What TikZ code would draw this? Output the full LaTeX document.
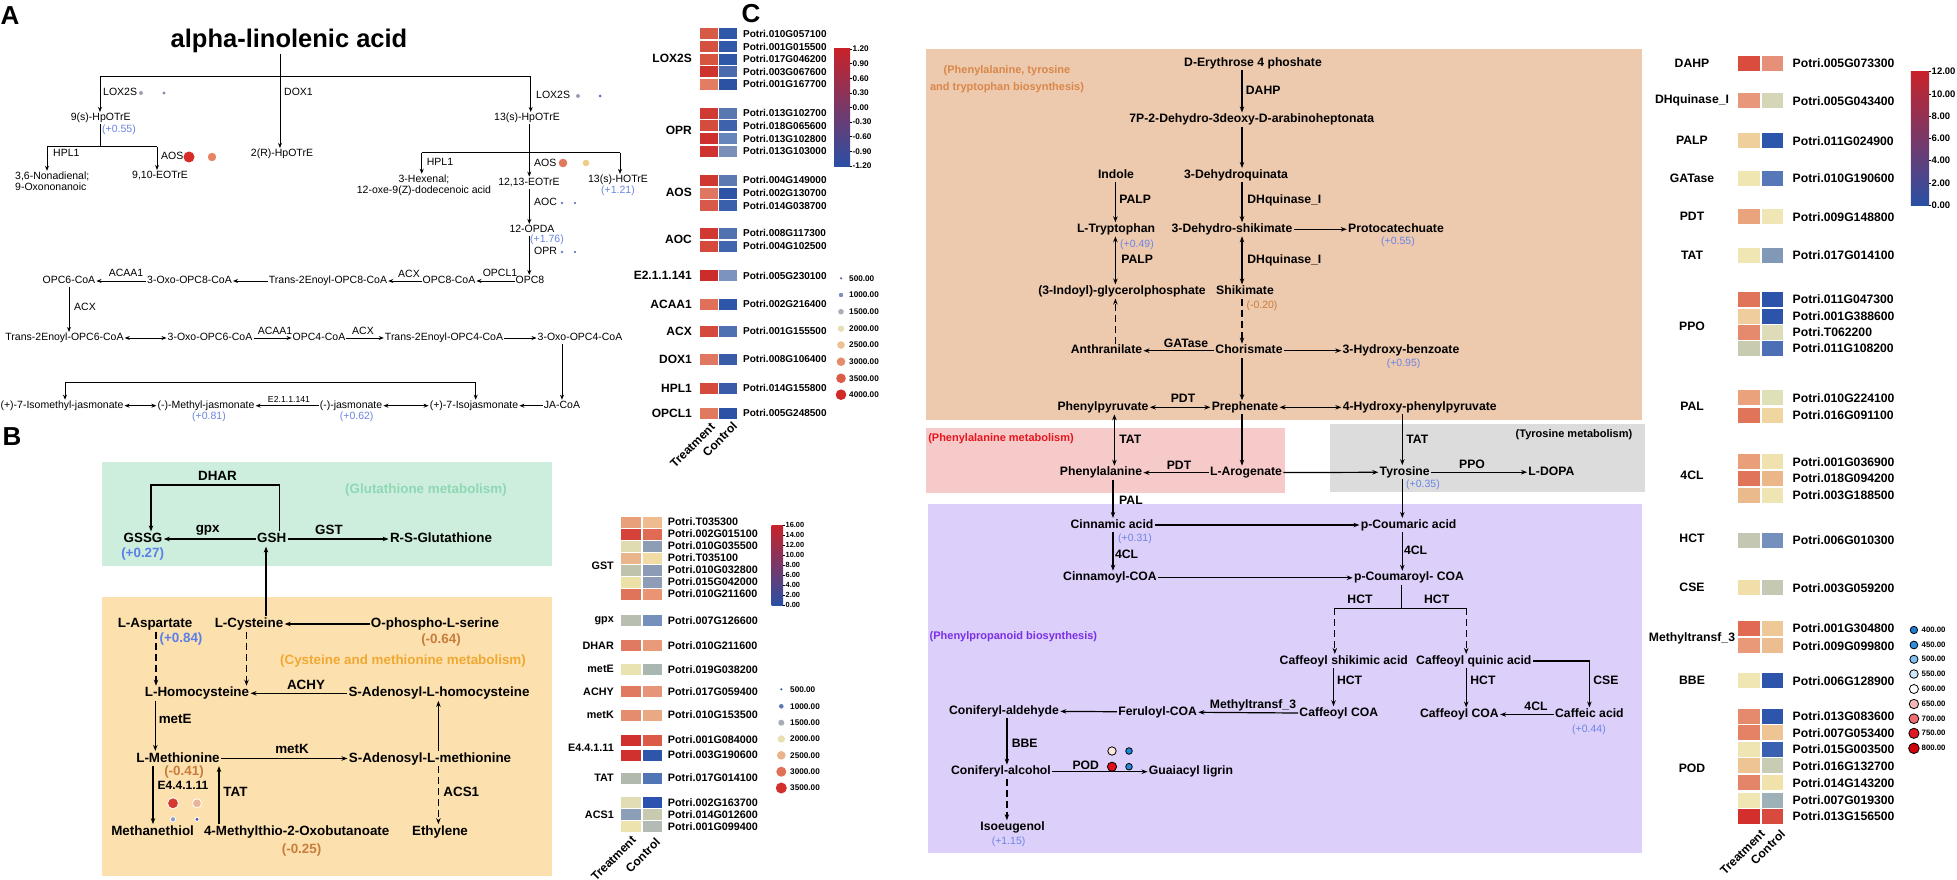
\documentclass[tikz,border=0pt]{standalone}
\usepackage{fontspec}
\setmainfont{Liberation Sans}
\usetikzlibrary{arrows.meta}
\usetikzlibrary{calc}

% colours
\definecolor{valA}{HTML}{6A86E0}
\definecolor{valB}{HTML}{5B7EE8}
\definecolor{valO}{HTML}{C87D3C}
\definecolor{valC}{HTML}{6B85E8}
\definecolor{boxgreen}{HTML}{CDEEDD}
\definecolor{txtgreen}{HTML}{8ED8B4}
\definecolor{boxorange}{HTML}{FCE0AD}
\definecolor{txtgold}{HTML}{F0A832}
\definecolor{boxpeach}{HTML}{EDC9AD}
\definecolor{txtpeach}{HTML}{D9874A}
\definecolor{boxpink}{HTML}{F7CACA}
\definecolor{txtred}{HTML}{E8141C}
\definecolor{boxgrey}{HTML}{DCDCDC}
\definecolor{boxlav}{HTML}{DCCFF9}
\definecolor{txtpurple}{HTML}{7A2EE8}
\definecolor{cbred}{HTML}{C8222A}
\definecolor{cbmid}{HTML}{F0EDB2}
\definecolor{cbblue}{HTML}{2A4FA5}

\newcommand{\hmset}[2]{\edef\hmtmp{\noexpand\definecolor{hmT}{HTML}{#1}\noexpand\definecolor{hmC}{HTML}{#2}}\hmtmp}
\newcommand{\dotset}[1]{\edef\hmtmp{\noexpand\definecolor{dcol}{HTML}{#1}}\hmtmp}

\tikzset{
  plab/.style={font=\bfseries\fontsize{26}{30}\selectfont, inner sep=0pt},
  atx/.style={font=\fontsize{10.5}{12}\selectfont, inner sep=1pt, text height=7.6pt, text depth=2.1pt},
  atm/.style={font=\fontsize{10.5}{11.3}\selectfont, inner sep=1pt, align=#1},
  btx/.style={font=\bfseries\fontsize{13.4}{15}\selectfont, inner sep=1.2pt, text height=9.7pt, text depth=2.7pt},
  ctx/.style={font=\bfseries\fontsize{12.2}{14}\selectfont, inner sep=1.2pt, text height=8.8pt, text depth=2.5pt},
  cval/.style={font=\fontsize{10.5}{12}\selectfont, inner sep=1pt, text=valC},
  ttl/.style={font=\bfseries\fontsize{11}{16.7}\selectfont, inner sep=1pt},
  hlA/.style={font=\bfseries\fontsize{10}{12}\selectfont, inner sep=0pt, anchor=west},
  hlB/.style={font=\bfseries\fontsize{10.8}{12}\selectfont, inner sep=0pt, anchor=west},
  hlC/.style={font=\bfseries\fontsize{12.2}{14}\selectfont, inner sep=0pt, anchor=west},
  enA/.style={font=\bfseries\fontsize{12}{14}\selectfont, inner sep=0pt, anchor=east},
  enB/.style={font=\bfseries\fontsize{10.8}{12}\selectfont, inner sep=0pt, anchor=east},
  enC/.style={font=\bfseries\fontsize{12.2}{14}\selectfont, inner sep=0pt},
  tcl/.style={font=\bfseries\fontsize{12}{14}\selectfont, inner sep=0pt, rotate=45, anchor=east},
  leg/.style={font=\bfseries\fontsize{8.2}{9}\selectfont, inner sep=0pt, anchor=west},
  aln/.style={line width=1pt},
  aarr/.style={aln, -{Stealth[length=5pt,width=4pt]}},
  adarr/.style={aln, {Stealth[length=5pt,width=4pt]}-{Stealth[length=5pt,width=4pt]}},
  bln/.style={line width=1.2pt},
  barr/.style={bln, -{Stealth[length=6pt,width=4.5pt]}},
  cln/.style={line width=1.2pt},
  carr/.style={cln, -{Stealth[length=6pt,width=4.5pt]}},
  cdarr/.style={cln, {Stealth[length=6pt,width=4.5pt]}-{Stealth[length=6pt,width=4.5pt]}},
  ldash/.style={dash pattern=on 7pt off 4pt},
}

\begin{document}
\begin{tikzpicture}[x=1pt,y=-1pt]
\useasboundingbox (0,0) rectangle (1957,880);
\fill[white] (0,0) rectangle (1957,880);

% ================= panel A
\node[plab] (labA) at (10,16) {A};
\node[font=\bfseries\fontsize{25.5}{28}\selectfont, inner sep=1pt] (ala) at (289,41) {alpha-linolenic acid};

\node[atx] (hp9) at (100.7,118) {9(s)-HpOTrE};
\node[atx, text=valA] (v055) at (119,129.5) {(+0.55)};
\node[atx] (r2hp) at (282,154) {2(R)-HpOTrE};
\node[atx] (hp13) at (527,118) {13(s)-HpOTrE};
\node[atm=left, anchor=west] (non) at (14,181.5) {3,6-Nonadienal;\\9-Oxononanoic};
\node[atx] (e910) at (160,176) {9,10-EOTrE};
\node[atm=center] (hex) at (424,185.5) {3-Hexenal;\\12-oxe-9(Z)-dodecenoic acid};
\node[atx] (e1213) at (529,182.7) {12,13-EOTrE};
\node[atx] (hot) at (618,180) {13(s)-HOTrE};
\node[atx, text=valA] (v121) at (618,190.5) {(+1.21)};
\node[atx] (opda) at (532,230) {12-OPDA};
\node[atx, text=valA] (v176) at (547,239.5) {(+1.76)};
\node[atx] (opc8) at (530,281) {OPC8};
\node[atx] (opc8c) at (449,281) {OPC8-CoA};
\node[atx] (t2e8) at (328,281) {Trans-2Enoyl-OPC8-CoA};
\node[atx] (oxo8) at (189.5,281) {3-Oxo-OPC8-CoA};
\node[atx] (opc6) at (69,281) {OPC6-CoA};
\node[atx] (t2e6) at (64.5,338) {Trans-2Enoyl-OPC6-CoA};
\node[atx] (oxo6) at (210,338) {3-Oxo-OPC6-CoA};
\node[atx] (opc4) at (319,338) {OPC4-CoA};
\node[atx] (t2e4) at (444,338) {Trans-2Enoyl-OPC4-CoA};
\node[atx] (oxo4) at (580,338) {3-Oxo-OPC4-CoA};
\node[atx] (jacoa) at (562,405.7) {JA-CoA};
\node[atx] (ija) at (474,405.7) {(+)-7-Isojasmonate};
\node[atx] (ja) at (351,405.7) {(-)-jasmonate};
\node[atx, text=valA] (v062) at (356.7,417) {(+0.62)};
\node[atx] (mja) at (206,405.7) {(-)-Methyl-jasmonate};
\node[atx, text=valA] (v081) at (209,417) {(+0.81)};
\node[atx] (imja) at (62,405.7) {(+)-7-Isomethyl-jasmonate};

% enzymes of A
\node[atx, anchor=west] (elox1) at (102,93) {LOX2S};
\node[atx, anchor=west] (edox) at (283,93) {DOX1};
\node[atx, anchor=west] (elox2) at (535,95.7) {LOX2S};
\node[atx, anchor=west] (ehpl1) at (52,154) {HPL1};
\node[atx, anchor=west] (eaos1) at (160,157) {AOS};
\node[atx, anchor=west] (ehpl2) at (425.7,162.3) {HPL1};
\node[atx, anchor=west] (eaos2) at (533,164) {AOS};
\node[atx, anchor=west] (eaoc) at (533,203) {AOC};
\node[atx, anchor=west] (eopr) at (533,251.7) {OPR};
\node[atx] (eopcl) at (500,274) {OPCL1};
\node[atx] (eacx1) at (409,275) {ACX};
\node[atx] (eacaa1) at (126,274) {ACAA1};
\node[atx, anchor=west] (eacx2) at (73,307.3) {ACX};
\node[atx] (eacaa2) at (275,332) {ACAA1};
\node[atx] (eacx3) at (363,332) {ACX};
\node[atx, font=\fontsize{8.7}{10}\selectfont] (ee21) at (289,400) {E2.1.1.141};

\foreach \x/\y/\r/\c in {141/93/2/9AA3B5, 164/93/1.7/7D8DB0, 189/157/5.5/D82A26, 212/157/4.2/E88466,
    578/96/2/98A2B4, 600/96/1.5/5D72AE, 563/163/4.3/E07A5C, 586/163/3.3/F0CC88,
    562/203/1.3/6B7FB4, 575/203/1.1/4C5FA8, 562/252/1.4/6B7FB4, 575/252/1.2/4C62AB}{
  \dotset{\c}\fill[dcol] (\x,\y) circle[radius=\r];
}

% connectors of A
\coordinate (ax0) at (280,77);
\coordinate (ax1) at (100,77);
\coordinate (ax2) at (530.7,77);
\draw[aln] (ax1) -- (ax2);
\draw[aarr] (ala.south -| ax0) -- (r2hp.north -| ax0);
\draw[aarr] (ax1) -- (hp9.north -| ax1);
\draw[aarr] (ax2) -- (hp13.north -| ax2);
\coordinate (ax3) at (100,147);
\coordinate (ax4) at (47,147);
\coordinate (ax5) at (157,147);
\draw[aln] (hp9.south -| ax3) -- (ax3);
\draw[aln] (ax4) -- (ax5);
\draw[aarr] (ax4) -- (non.north -| ax4);
\draw[aarr] (ax5) -- (e910.north -| ax5);
\coordinate (ax6) at (529.3,152.7);
\coordinate (ax7) at (421.7,152.7);
\coordinate (ax8) at (620,152.7);
\draw[aarr] (hp13.south -| ax6) -- (e1213.north -| ax6);
\draw[aln] (ax7) -- (ax8);
\draw[aarr] (ax7) -- (hex.north -| ax7);
\draw[aarr] (ax8) -- (hot.north -| ax8);
\draw[aarr] (e1213.south -| ax6) -- (opda.north -| ax6);
\draw[aarr] (opda.south -| ax6) -- (opc8.north -| ax6);
\draw[aarr] (opc8) -- (opc8c);
\draw[aarr] (opc8c) -- (t2e8);
\draw[aarr] (t2e8) -- (oxo8);
\draw[aarr] (oxo8) -- (opc6);
\draw[aarr] (opc6.south) -- (t2e6.north -| opc6.south);
\draw[adarr] (t2e6) -- (oxo6);
\draw[aarr] (oxo6) -- (opc4);
\draw[aarr] (opc4) -- (t2e4);
\draw[aarr] (t2e4) -- (oxo4);
\draw[aarr] (oxo4.south -| jacoa.north) -- (jacoa.north);
\draw[aarr] (jacoa) -- (ija);
\draw[adarr] (ja) -- (ija);
\draw[aarr] (ja) -- (mja);
\draw[adarr] (mja) -- (imja);
\coordinate (ax10) at (65,382.7);
\coordinate (ax11) at (475.7,382.7);
\draw[adarr] (imja.north -| ax10) -- (ax10) -- (ax11) -- (ija.north -| ax11);

% heatmap A
\foreach \y/\ct/\cc/\nm [count=\i] in {34/D65A45/3058A8/Potri.010G057100, 46.6/D5503E/3159A9/Potri.001G015500,
    59.2/D6553F/2F57A8/Potri.017G046200, 71.8/CD3430/4C6AAE/Potri.003G067600, 84.4/E27D63/2C52A3/Potri.001G167700,
    113.3/CF3A32/5A78B0/Potri.013G102700, 126/D44C3D/3E62AB/Potri.018G065600, 138.7/CC3130/6685B8/Potri.013G102800,
    151.3/CF3331/7A90B8/Potri.013G103000, 180/CF3831/5C79B2/Potri.004G149000, 193/E07560/2C53A6/Potri.002G130700,
    205.7/D8594A/3A5FAB/Potri.014G038700, 233.3/D03831/5073B0/Potri.008G117300, 246/D54A3B/4064AD/Potri.004G102500,
    275.5/CC2C2A/7D93BF/Potri.005G230100, 304/E07059/2E56A8/Potri.002G216400, 331/D44A3D/4F70B1/Potri.001G155500,
    359/E07762/3A5CA8/Potri.008G106400, 388.3/D44A3C/3A5CA8/Potri.014G155800, 413.3/E07A5F/2C52A6/Potri.005G248500}{
  \hmset{\ct}{\cc}
  \fill[hmT] (700,\y-5.5) rectangle (717.7,\y+5.5);
  \fill[hmC] (719.3,\y-5.5) rectangle (737.3,\y+5.5);
  \node[hlA] (ga\i) at (743,\y) {\nm};
}
\foreach \y/\nm [count=\i] in {58.3/LOX2S, 130/OPR, 192.7/AOS, 239.3/AOC, 275.5/E2.1.1.141,
    304/ACAA1, 331/ACX, 359/DOX1, 388.3/HPL1, 413.3/OPCL1}{
  \node[enA] (ea\i) at (692,\y) {\nm};
}
\node[tcl] (trA) at (713,425) {Treatment};
\node[tcl] (coA) at (735,424) {Control};

\shade[top color=cbred, middle color=cbmid, bottom color=cbblue] (834,49) rectangle (850,166);
\foreach \v [count=\i from 0] in {1.20,0.90,0.60,0.30,0.00,-0.30,-0.60,-0.90,-1.20}{
  \draw[line width=0.6pt] (850,49+\i*14.625) -- ++(2,0);
  \node[leg] (cba\i) at (852.5,49+\i*14.625) {\v};
}
\foreach \y/\r/\c/\v [count=\i] in {278.3/1.2/4A62A8/500.00, 295/2.2/7C8FB8/1000.00, 311.7/2.8/A9AFB8/1500.00,
    328.7/3.2/E4E0B4/2000.00, 345/3.8/ECC091/2500.00, 361.7/4.3/E58C6C/3000.00,
    378.3/4.8/DC5C48/3500.00, 394.7/5.3/D02A26/4000.00}{
  \dotset{\c}\fill[dcol] (841,\y) circle[radius=\r];
  \node[leg] (sza\i) at (849,\y) {\v};
}

% ================= panel B
\fill[boxgreen] (101.7,462.3) rectangle (552,566);
\fill[boxorange] (101.7,596.7) rectangle (552,876);
\node[plab] (labB) at (12,437) {B};

\node[btx, text=txtgreen] (tglu) at (426,490) {(Glutathione metabolism)};
\node[btx, text=txtgold] (tcys) at (403,660.7) {(Cysteine and methionine metabolism)};
\node[btx] (gssg) at (143,539) {GSSG};
\node[btx, text=valB] (v027) at (142.7,553.5) {(+0.27)};
\node[btx] (gsh) at (271.7,539) {GSH};
\node[btx] (rsg) at (441,539) {R-S-Glutathione};
\node[btx] (edhar) at (217.5,476.7) {DHAR};
\node[btx] (egpx) at (207.7,529) {gpx};
\node[btx] (egst) at (329,531) {GST};
\node[btx] (asp) at (155,624) {L-Aspartate};
\node[btx, text=valB] (v084) at (181,639) {(+0.84)};
\node[btx] (cys) at (249,624) {L-Cysteine};
\node[btx] (ops) at (435,624) {O-phospho-L-serine};
\node[btx, text=valO] (v064) at (441,640) {(-0.64)};
\node[btx] (hcy) at (197,693.3) {L-Homocysteine};
\node[btx] (sah) at (439,693.3) {S-Adenosyl-L-homocysteine};
\node[btx] (eachy) at (306,685.7) {ACHY};
\node[btx, anchor=west] (emete) at (157.4,720) {metE};
\node[btx] (met) at (178,758.5) {L-Methionine};
\node[btx] (sam) at (430,758.5) {S-Adenosyl-L-methionine};
\node[btx] (emetk) at (292,750) {metK};
\node[btx, text=valO] (v041) at (184,771.7) {(-0.41)};
\node[btx, font=\bfseries\fontsize{12}{14}\selectfont] (ee44) at (183,786) {E4.4.1.11};
\node[btx, anchor=west] (etat) at (222,793.3) {TAT};
\node[btx, anchor=west] (eacs) at (442,793.3) {ACS1};
\node[btx] (mth) at (152.6,831.7) {Methanethiol};
\node[btx] (mob) at (296.7,831.7) {4-Methylthio-2-Oxobutanoate};
\node[btx, text=valO] (v025) at (301.6,850) {(-0.25)};
\node[btx] (eth) at (440,831.7) {Ethylene};

\foreach \x/\y/\r/\c in {173/803.3/5.5/D43A32, 197/803.3/4.5/EAB596, 173/819.3/2.7/8D9FC0, 197/819.3/2/3B5DB0}{
  \dotset{\c}\filldraw[fill=dcol, draw=white, line width=0.8pt] (\x,\y) circle[radius=\r];
}

% connectors of B
\draw[barr] (gsh) -- (gssg);
\draw[barr] (gsh) -- (rsg);
\coordinate (bx1) at (279.3,485);
\coordinate (bx2) at (151,485);
\draw[barr] (gsh.north -| bx1) -- (bx1) -- (bx2) -- (gssg.north -| bx2);
\coordinate (bx3) at (266,0);
\draw[barr] (cys.north -| bx3) -- (gsh.south -| bx3);
\draw[barr] (ops) -- (cys);
\coordinate (bx4) at (156,0);
\draw[barr, ldash] (asp.south -| bx4) -- (hcy.north -| bx4);
\coordinate (bx5) at (246.5,0);
\draw[barr, ldash] (cys.south -| bx5) -- (hcy.north -| bx5);
\draw[barr] (sah) -- (hcy);
\coordinate (bx6) at (155.3,0);
\draw[barr] (hcy.south -| bx6) -- (met.north -| bx6);
\draw[barr] (met) -- (sam);
\coordinate (bx7) at (438.4,0);
\draw[barr] (sam.north -| bx7) -- (sah.south -| bx7);
\draw[barr, ldash] (sam.south -| bx7) -- (eth.north -| bx7);
\coordinate (bx8) at (153,0);
\draw[barr] (met.south -| bx8) -- (mth.north -| bx8);
\coordinate (bx9) at (219,0);
\draw[barr] (mob.north -| bx9) -- (met.south -| bx9);

% heatmap B
\foreach \y/\ct/\cc/\nm [count=\i] in {522/E8A07A/EEBC8E/Potri.T035300, 534/D6413A/E06B55/Potri.002G015100,
    546/DEDCB0/8D9DB4/Potri.010G035500, 558/EAB58C/F0DCA4/Potri.T035100, 570/BFC3AC/8D9CB6/Potri.010G032800,
    582/ECE2A8/8E9DB5/Potri.015G042000, 594/E07459/E99574/Potri.010G211600, 620.7/B8BFB0/7690BD/Potri.007G126600,
    645.3/E07A60/E99A78/Potri.010G211600, 669.3/E9E3B2/AAB6B0/Potri.019G038200, 691.7/E07A60/E6957A/Potri.017G059400,
    715/E48C6D/E9A985/Potri.010G153500, 740/D0312E/DC5A48/Potri.001G084000, 755/D0312E/2D55A9/Potri.003G190600,
    778/B1B9AD/5276B5/Potri.017G014100, 802.8/E2DDB5/2C52B0/Potri.002G163700, 814.5/8C9FB8/C8CAB0/Potri.014G012600,
    826.7/EDE3AE/B4BBB4/Potri.001G099400}{
  \hmset{\ct}{\cc}
  \fill[hmT] (621,\y-5.5) rectangle (640.7,\y+5.5);
  \fill[hmC] (643.3,\y-5.5) rectangle (662.3,\y+5.5);
  \node[hlB] (gb\i) at (667.7,\y) {\nm};
}
\foreach \y/\nm [count=\i] in {566/GST, 620.7/gpx, 645.3/DHAR, 669.3/metE, 691.7/ACHY, 715/metK,
    748/E4.4.1.11, 778/TAT, 814.5/ACS1}{
  \node[enB] (eb\i) at (614,\y) {\nm};
}
\node[tcl] (trB) at (634,838) {Treatment};
\node[tcl] (coB) at (658,840) {Control};

\shade[top color=cbred, middle color=cbmid, bottom color=cbblue] (771.7,525) rectangle (783,605);
\foreach \v [count=\i from 0] in {16.00,14.00,12.00,10.00,8.00,6.00,4.00,2.00,0.00}{
  \draw[line width=0.6pt] (783,525+\i*10) -- ++(2,0);
  \node[leg, font=\bfseries\fontsize{7.4}{8}\selectfont] (cbb\i) at (785.5,525+\i*10) {\v};
}
\foreach \y/\r/\c/\v [count=\i] in {689.3/1.2/3C5AA8/500.00, 706.3/2.3/5F79B2/1000.00, 722.7/3/A7ADB6/1500.00,
    739/3.7/E6E2B0/2000.00, 755.3/4.3/EBB38B/2500.00, 771.7/5/E07058/3000.00, 788/5.5/D3302C/3500.00}{
  \dotset{\c}\fill[dcol] (781.3,\y) circle[radius=\r];
  \node[leg] (szb\i) at (790,\y) {\v};
}

% ================= panel C
\fill[boxpeach] (926,49.3) rectangle (1642.3,420);
\fill[boxpink] (926,427.7) rectangle (1284.5,492.7);
\fill[boxgrey] (1330.4,424.3) rectangle (1644.5,491.7);
\fill[boxlav] (927.7,503.5) rectangle (1642.3,853.3);
\node[plab] (labC) at (751,14) {C};

\node[ttl, text=txtpeach, align=center] (tphe) at (1007,79.4) {(Phenylalanine, tyrosine\\and tryptophan biosynthesis)};
\node[ttl, text=txtred] (tphm) at (1001,439) {(Phenylalanine metabolism)};
\node[ttl] (ttyr) at (1574,435) {(Tyrosine metabolism)};
\node[ttl, text=txtpurple] (tppb) at (1013.4,636.7) {(Phenylpropanoid biosynthesis)};

\node[ctx] (ery) at (1253,63.3) {D-Erythrose 4 phoshate};
\node[ctx] (hept) at (1251.8,119.5) {7P-2-Dehydro-3deoxy-D-arabinoheptonata};
\node[ctx] (dhq) at (1236,175) {3-Dehydroquinata};
\node[ctx] (ind) at (1116,175) {Indole};
\node[ctx] (trp) at (1116,229.3) {L-Tryptophan};
\node[ctx] (dhs) at (1232,229.3) {3-Dehydro-shikimate};
\node[ctx] (pca) at (1396,229.3) {Protocatechuate};
\node[ctx] (igp) at (1122,291.5) {(3-Indoyl)-glycerolphosphate};
\node[ctx] (shk) at (1245,291.5) {Shikimate};
\node[ctx] (ant) at (1106.5,350.7) {Anthranilate};
\node[ctx] (cho) at (1249,350.7) {Chorismate};
\node[ctx] (hba) at (1401,350.7) {3-Hydroxy-benzoate};
\node[ctx] (ppy) at (1103,407.3) {Phenylpyruvate};
\node[ctx] (pre) at (1245,407.3) {Prephenate};
\node[ctx] (hpp) at (1419.7,407.3) {4-Hydroxy-phenylpyruvate};
\node[ctx] (phe) at (1101,472.7) {Phenylalanine};
\node[ctx] (aro) at (1246,472.7) {L-Arogenate};
\node[ctx] (tyr) at (1404.7,472.2) {Tyrosine};
\node[ctx] (dopa) at (1551.4,472.2) {L-DOPA};
\node[ctx] (cin) at (1112,525) {Cinnamic acid};
\node[ctx] (pcou) at (1408.6,525) {p-Coumaric acid};
\node[ctx] (cinc) at (1110,577.8) {Cinnamoyl-COA};
\node[ctx] (pcouc) at (1409,577.8) {p-Coumaroyl- COA};
\node[ctx] (cfs) at (1343.8,661) {Caffeoyl shikimic acid};
\node[ctx] (cfq) at (1473.8,661) {Caffeoyl quinic acid};
\node[ctx] (ccoa1) at (1338.8,713.3) {Caffeoyl COA};
\node[ctx] (ccoa2) at (1459.4,714.5) {Caffeoyl COA};
\node[ctx] (caf) at (1589.4,714.5) {Caffeic acid};
\node[ctx] (fer) at (1157.6,712) {Feruloyl-COA};
\node[ctx] (cald) at (1004,711) {Coniferyl-aldehyde};
\node[ctx] (calc) at (1001,771.7) {Coniferyl-alcohol};
\node[ctx] (gua) at (1191,771.7) {Guaiacyl ligrin};
\node[ctx] (iso) at (1012.6,827.3) {Isoeugenol};

\node[cval] (v055c) at (1398,241.7) {(+0.55)};
\node[cval] (v049) at (1137,245) {(+0.49)};
\node[cval, text=valO] (v020) at (1262,305.7) {(-0.20)};
\node[cval] (v095) at (1403.6,363.3) {(+0.95)};
\node[cval] (v035) at (1423,485) {(+0.35)};
\node[cval] (v031) at (1135,539) {(+0.31)};
\node[cval] (v044) at (1589,729.3) {(+0.44)};
\node[cval] (v115) at (1008.6,841.7) {(+1.15)};

% enzymes of C
\node[ctx, anchor=west] (edahp) at (1244.5,91.7) {DAHP};
\node[ctx, anchor=west] (edhq1) at (1246,200) {DHquinase\_I};
\node[ctx, anchor=west] (edhq2) at (1246,260.7) {DHquinase\_I};
\node[ctx, anchor=west] (epalp1) at (1118,200) {PALP};
\node[ctx, anchor=west] (epalp2) at (1120,260.7) {PALP};
\node[ctx] (egat) at (1186,344.5) {GATase};
\node[ctx] (epdt1) at (1183,399.3) {PDT};
\node[ctx, anchor=west] (etat1) at (1118,440) {TAT};
\node[ctx] (epdt2) at (1179,466.2) {PDT};
\node[ctx, anchor=west] (etat2) at (1405,440.7) {TAT};
\node[ctx] (eppo) at (1472,465) {PPO};
\node[ctx, anchor=west] (epal) at (1117.8,501.7) {PAL};
\node[ctx, anchor=west] (e4cl1) at (1113.7,555) {4CL};
\node[ctx, anchor=west] (e4cl2) at (1402.7,551) {4CL};
\node[ctx] (ehct1) at (1360,600) {HCT};
\node[ctx] (ehct2) at (1436.7,600) {HCT};
\node[ctx, anchor=west] (ehct3) at (1335.7,681) {HCT};
\node[ctx, anchor=west] (ehct4) at (1469,681) {HCT};
\node[ctx, anchor=west] (ecse) at (1592,681) {CSE};
\node[ctx] (e4cl3) at (1536,707.3) {4CL};
\node[ctx] (emt3) at (1253,705) {Methyltransf\_3};
\node[ctx, anchor=west] (ebbe) at (1010.4,744.3) {BBE};
\node[ctx] (epod) at (1085.8,766.7) {POD};

\foreach \x/\y/\r/\c in {1112/751/4.2/FDE8E0, 1129/751/3.3/1E88D8, 1112/766.7/4.6/E0101A, 1129/766.7/3.3/2A8AD8}{
  \dotset{\c}\filldraw[fill=dcol, draw=black, line width=0.8pt] (\x,\y) circle[radius=\r];
}

% connectors of C
\coordinate (cs) at (1242,0);
\draw[carr] (ery.south -| cs) -- (hept.north -| cs);
\draw[carr] (hept.south -| cs) -- (dhq.north -| cs);
\draw[carr] (dhq.south -| cs) -- (dhs.north -| cs);
\draw[cdarr] (dhs.south -| cs) -- (shk.north -| cs);
\draw[carr, ldash] (shk.south -| cs) -- (cho.north -| cs);
\draw[carr] (cho.south -| cs) -- (pre.north -| cs);
\draw[carr] (pre.south -| cs) -- (aro.north -| cs);
\coordinate (ct) at (1115.4,0);
\draw[carr] (ind.south -| ct) -- (trp.north -| ct);
\draw[cdarr] (igp.north -| ct) -- (trp.south -| ct);
\draw[carr, ldash] (ant.north -| ct) -- (igp.south -| ct);
\draw[carr] (cho) -- (ant);
\draw[carr] (dhs) -- (pca);
\draw[carr] (cho) -- (hba);
\draw[cdarr] (ppy) -- (pre);
\draw[cdarr] (pre) -- (hpp);
\coordinate (cp) at (1114.4,0);
\draw[cdarr] (ppy.south -| cp) -- (phe.north -| cp);
\draw[carr] (aro) -- (phe);
\draw[carr] (aro) -- (tyr);
\coordinate (cy) at (1402.3,0);
\draw[carr] (hpp.south -| cy) -- (tyr.north -| cy);
\draw[carr] (tyr) -- (dopa);
\coordinate (cc) at (1113,0);
\draw[carr] (phe.south -| cc) -- (cin.north -| cc);
\draw[carr] (cin) -- (pcou);
\draw[carr] (tyr.south -| cy) -- (pcou.north -| cy);
\draw[carr] (cin.south -| cc) -- (cinc.north -| cc);
\draw[carr] (cinc) -- (pcouc);
\draw[carr] (pcou.south -| cy) -- (pcouc.north -| cy);
\coordinate (ch0) at (1401.4,608.3);
\coordinate (ch1) at (1334.8,608.3);
\coordinate (ch2) at (1466.2,608.3);
\draw[cln] (pcouc.south -| ch0) -- (ch0);
\draw[cln] (ch1) -- (ch2);
\draw[carr, ldash] (ch1) -- (cfs.north -| ch1);
\draw[carr, ldash] (ch2) -- (cfq.north -| ch2);
\coordinate (cf1) at (1333.5,0);
\draw[carr] (cfs.south -| cf1) -- (ccoa1.north -| cf1);
\draw[carr] (cfq.south -| ch2) -- (ccoa2.north -| ch2);
\draw[carr] (cfq.east) -| (caf.north);
\draw[carr] (caf) -- (ccoa2);
\draw[carr] (ccoa1) -- (fer);
\draw[carr] (fer) -- (cald);
\coordinate (cb) at (1006.9,0);
\draw[carr] (cald.south -| cb) -- (calc.north -| cb);
\draw[carr] (calc) -- (gua);
\draw[carr, ldash] (calc.south -| cb) -- (iso.north -| cb);

% heatmap C
\foreach \y/\ct/\cc/\nm [count=\i] in {63.3/D94C3E/E6907A/Potri.005G073300, 100.7/E8977A/D5D6B8/Potri.005G043400,
    140.7/EFCF9C/2C55AC/Potri.011G024900, 178.3/F0E6B2/5677B8/Potri.010G190600, 216.7/E9A47E/F0E6B5/Potri.009G148800,
    255/F0E6B4/8298B7/Potri.017G014100, 299.3/E07458/2C54AA/Potri.011G047300, 316/EFCD9C/2C54AA/Potri.001G388600,
    332.3/E58A6C/DEDCB8/Potri.T062200, 348.3/C8CBB0/4D6FB5/Potri.011G108200, 397.7/E9A27C/DFDFB8/Potri.010G224100,
    415/E07458/EFD5A0/Potri.016G091100, 461.7/E9A07A/EFE2AE/Potri.001G036900, 478.3/E07458/EBB688/Potri.018G094200,
    495/EBBA8C/EFE5B3/Potri.003G188500, 540/C4C8B3/7690BD/Potri.006G010300, 587.7/F0DFA8/C5C9B4/Potri.003G059200,
    628.3/E06A52/EFC898/Potri.001G304800, 645.7/E99878/EBBD90/Potri.009G099800, 680.7/F0E6B4/2C55AB/Potri.006G128900,
    716/E58A6C/2C55AB/Potri.013G083600, 732.7/E58266/EFC494/Potri.007G053400, 749.3/EFE5B3/3A60B2/Potri.015G003500,
    765.7/EFC494/C8CCB5/Potri.016G132700, 782.7/E48468/F1E2AB/Potri.014G143200, 800/EFE6B4/9EB0B8/Potri.007G019300,
    816/D32F2C/D94A3E/Potri.013G156500}{
  \hmset{\ct}{\cc}
  \fill[hmT] (1737.8,\y-7.5) rectangle (1759.7,\y+7.5);
  \fill[hmC] (1761.9,\y-7.5) rectangle (1783.3,\y+7.5);
  \node[hlC] (gc\i) at (1792.5,\y) {\nm};
}
\foreach \y/\nm [count=\i] in {63.3/DAHP, 100.7/DHquinase\_I, 140.7/PALP, 178.3/GATase, 216.7/PDT, 255/TAT,
    326/PPO, 406/PAL, 475/4CL, 538.3/HCT, 587.7/CSE, 638.3/Methyltransf\_3, 680.7/BBE, 768.3/POD}{
  \node[enC] (ec\i) at (1692,\y) {\nm};
}
\node[tcl] (trC) at (1763,832) {Treatment};
\node[tcl] (coC) at (1783,832) {Control};

\shade[top color=cbred, middle color=cbmid, bottom color=cbblue] (1910.8,71.7) rectangle (1929.2,205);
\foreach \v [count=\i from 0] in {12.00,10.00,8.00,6.00,4.00,2.00,0.00}{
  \draw[line width=0.6pt] (1929.2,71.7+\i*22.22) -- ++(2,0);
  \node[leg, font=\bfseries\fontsize{9.5}{11}\selectfont] (cbc\i) at (1931.5,71.7+\i*22.22) {\v};
}
\foreach \y/\r/\c/\v [count=\i] in {630/3.7/1E7FD6/400.00, 645/3.9/2D8FE0/450.00, 659.3/4.1/7EC0EF/500.00,
    674/4.3/CFE6F7/550.00, 689/4.5/FFFFFF/600.00, 704/4.7/F5B8B8/650.00, 718.7/4.9/EE6E72/700.00,
    733.3/5.1/E01A22/750.00, 748.3/5.3/D0000A/800.00}{
  \dotset{\c}\filldraw[fill=dcol, draw=black, line width=0.8pt] (1913.9,\y) circle[radius=\r];
  \node[leg, font=\bfseries\fontsize{7.8}{9}\selectfont] (szc\i) at (1921.5,\y) {\v};
}

\end{tikzpicture}
\end{document}
